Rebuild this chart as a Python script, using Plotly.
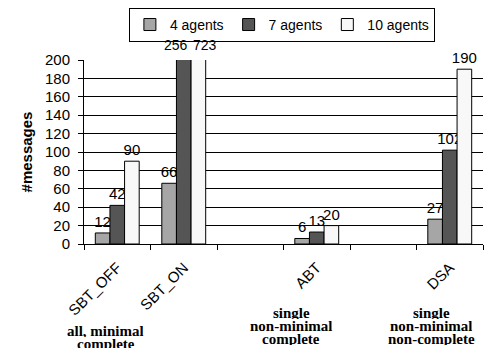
import plotly.graph_objects as go

categories = ["SBT_OFF", "SBT_ON", " ", "ABT", "  ", "DSA"]
series_names = ["4 agents", "7 agents", "10 agents"]
agents4 = [12, 66, None, 6, None, 27]
agents7 = [42, 256, None, 13, None, 102]
agents10 = [90, 723, None, 20, None, 190]
y_max = 200
group_notes = [
    (0.055, ["all, minimal", "complete"]),
    (0.52, ["single", "non-minimal", "complete"]),
    (0.872, ["single", "non-minimal", "non-complete"]),
]

colors = ["#a6a6a6", "#555555", "#f8f8f8"]
series = [agents4, agents7, agents10]

fig = go.Figure()
for name, vals, col in zip(series_names, series, colors):
    txt = ["" if v is None or v > y_max else str(v) for v in vals]
    fig.add_trace(go.Bar(
        name=name, x=categories, y=vals, text=txt,
        textposition="outside", constraintext="none", cliponaxis=False,
        textfont=dict(family="Arial", size=15, color="black"),
        marker=dict(color=col, line=dict(color="black", width=1)),
    ))

# labels for bars clipped by the axis range
bar_px = 14.7
extra = {1: -8, 2: 7}
for si, vals in enumerate(series):
    for ci, v in enumerate(vals):
        if v is not None and v > y_max:
            fig.add_annotation(
                x=categories[ci], y=y_max, xref="x", yref="y",
                text=str(v), showarrow=False, yanchor="bottom", yshift=5,
                xshift=(si - 1) * bar_px + extra.get(si, 0),
                font=dict(family="Arial", size=14, color="black"),
            )

for xp, lines in group_notes:
    first = 60 if len(lines) == 3 else 78
    for li, line in enumerate(lines):
        fig.add_annotation(
            x=xp, y=-(first + li * 13) / 184, xref="paper", yref="paper",
            text="<b>" + line + "</b>", showarrow=False,
            xanchor="center", yanchor="top", height=13, valign="middle",
            font=dict(family="Liberation Serif", size=15, color="black"),
        )

fig.update_layout(
    width=484, height=348,
    margin=dict(l=84, r=1, t=60, b=104),
    paper_bgcolor="white", plot_bgcolor="white",
    barmode="group", bargap=0.34, bargroupgap=0,
    font=dict(family="Arial", size=15, color="black"),
    showlegend=True,
    legend=dict(
        orientation="h", x=0.496, y=1.283, xanchor="center", yanchor="top",
        bordercolor="black", borderwidth=1, bgcolor="white",
        font=dict(family="Arial", size=14), itemwidth=30,
        tracegroupgap=0,
    ),
    xaxis=dict(
        type="category", showline=True, linecolor="black", linewidth=1,
        ticks="outside", ticklen=5, tickcolor="black", tickson="boundaries",
        tickangle=-45, tickfont=dict(family="Arial", size=15),
        ticklabelstandoff=8, showgrid=False,
    ),
    yaxis=dict(
        range=[0, y_max], dtick=20, showline=True, linecolor="black", linewidth=1,
        ticks="outside", ticklen=5, tickcolor="black",
        showgrid=True, gridcolor="black", gridwidth=1,
        tickfont=dict(family="Arial", size=15), ticklabelstandoff=5,
        title=dict(text="<b>#messages</b>", font=dict(family="Arial", size=15), standoff=8),
        zeroline=False,
    ),
)

fig.write_html(
    "out.html",
    config={"displayModeBar": False},
    post_script="document.body.style.margin='0';document.body.style.overflow='hidden';",
)
